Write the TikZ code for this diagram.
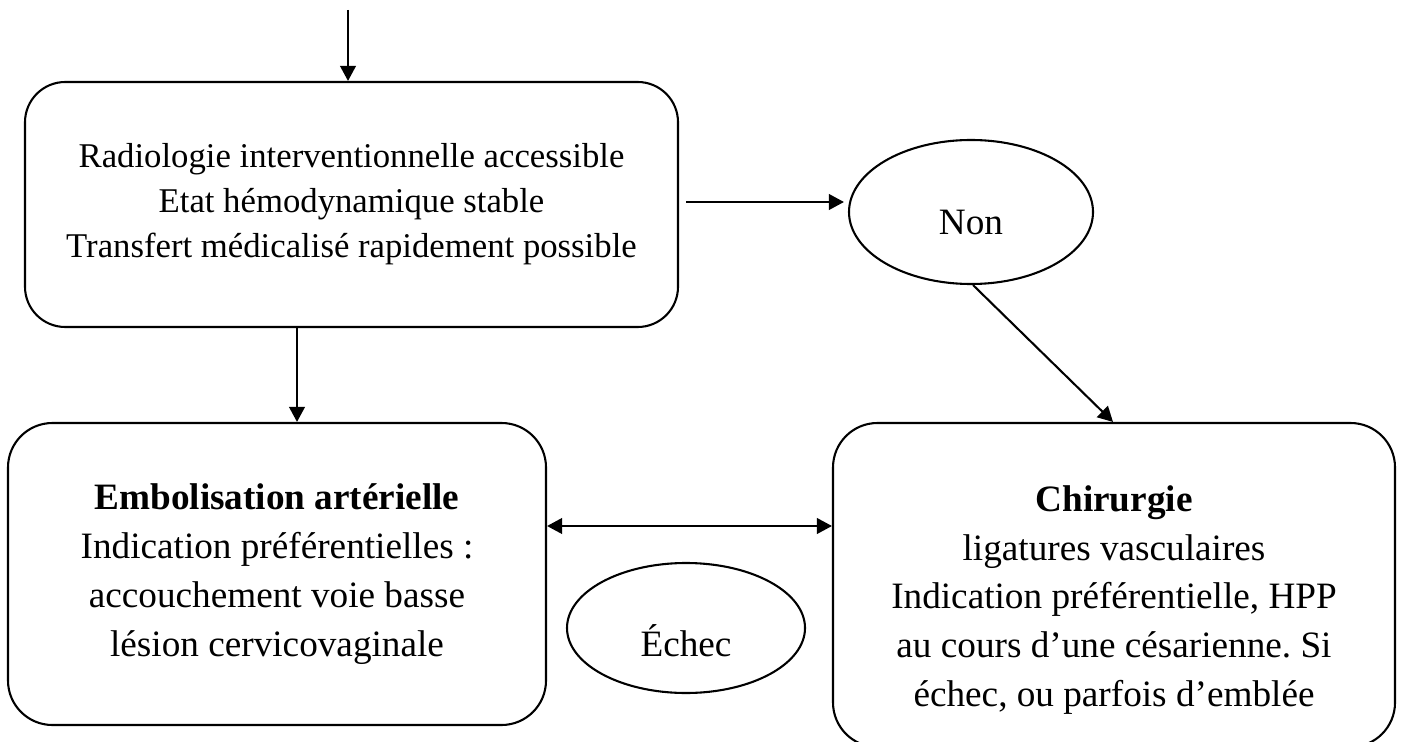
\documentclass[tikz,border=0pt]{standalone}
\usepackage{fontspec}
\setmainfont{Liberation Serif}
\frenchspacing
\usetikzlibrary{shapes.geometric,arrows.meta,calc}
\begin{document}
\begin{tikzpicture}[x=0.36pt,y=-0.36pt,
  line width=0.75pt,
  tip/.tip={Triangle[length=5.4pt,width=5.6pt]},
  arr/.style={-tip},
  dblarr/.style={tip-tip},
  roundbox/.style={draw, rounded corners=16pt, align=center, inner sep=0pt},
  oval/.style={draw, ellipse, inner sep=0pt},
  toptext/.style={font=\fontsize{12.5}{16.2}\selectfont},
  lowtext/.style={font=\fontsize{13.4}{17.6}\selectfont}]
\useasboundingbox (0,0) rectangle (1403,742);
\fill[white] (0,0) rectangle (1403,742);
\clip (0,0) rectangle (1403,742);

\node[roundbox, rounded corners=14.5pt, toptext, minimum width=235.08pt, minimum height=88.2pt] (top) at (351.5,204.5)
  {Radiologie interventionnelle accessible\\Etat hémodynamique stable\\Transfert médicalisé rapidement possible};
\node[roundbox, lowtext, minimum width=193.68pt, minimum height=108.72pt] (emb) at (277,574)
  {\textbf{Embolisation artérielle}\\Indication préférentielles :\\accouchement voie basse\\lésion cervicovaginale};
\node[roundbox, minimum width=202.32pt, minimum height=116.64pt] (chir) at (1114,585) {};
\node[lowtext, align=center] (chirtext) at (1114,600)
  {\textbf{Chirurgie}\\ligatures vasculaires\\Indication préférentielle, HPP\\au cours d’une césarienne. Si\\échec, ou parfois d’emblée};
\node[oval, minimum width=87.84pt, minimum height=51.84pt] (non) at (971,212) {};
\node[lowtext, anchor=base] (nonlbl) at ($(non.center)+(0,23)$) {Non};
\node[oval, minimum width=85.68pt, minimum height=46.8pt] (echec) at (686,628) {};
\node[lowtext, anchor=base] (echeclbl) at ($(echec.center)+(0,28)$) {Échec};

\coordinate (start) at (348,10);
\coordinate (cA) at (297,0);
\coordinate (cB) at (1113,0);
\coordinate (cC) at (0,526);

\draw[arr] (start) -- (start |- top.north);
\draw[arr] (cA |- top.south) -- (cA |- emb.north);
\draw[arr] ($(top.east)+(7,-2.5)$) -- ($(non.west)+(-4,-10)$);
\draw[arr] ($(non.south)+(2,0)$) -- (cB |- chir.north);
\draw[dblarr] (emb.east |- cC) -- (chir.west |- cC);
\end{tikzpicture}
\end{document}
